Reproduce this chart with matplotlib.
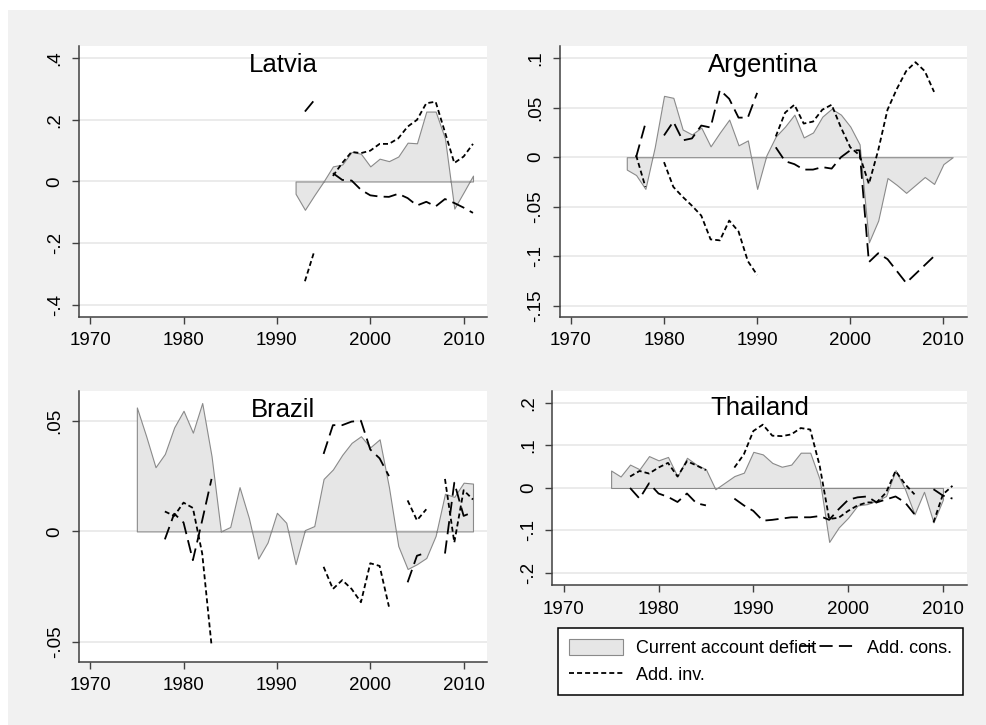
import matplotlib.pyplot as plt
import numpy as np
from matplotlib.lines import Line2D
from matplotlib.patches import Patch, Rectangle

nan = np.nan

# ---- data (shares of GDP) ----
latvia_years = list(range(1992, 2012))
latvia_ca = [-0.040, -0.092, -0.045, 0.000, 0.049, 0.055, 0.096, 0.090, 0.049, 0.074,
             0.066, 0.081, 0.126, 0.124, 0.227, 0.227, 0.140, -0.088, -0.035, 0.019]
latvia_cons = [nan, 0.227, 0.264, nan, 0.027, 0.005, 0.003, -0.027, -0.045, -0.049,
               -0.050, -0.040, -0.054, -0.078, -0.066, -0.081, -0.057, -0.070, -0.085, -0.102]
latvia_inv = [nan, -0.324, -0.227, nan, 0.018, 0.060, 0.096, 0.092, 0.100, 0.122,
              0.122, 0.140, 0.178, 0.200, 0.254, 0.259, 0.160, 0.060, 0.081, 0.122]

argentina_years = list(range(1976, 2012))
argentina_ca = [-0.0125, -0.018, -0.032, 0.010, 0.062, 0.060, 0.028, 0.023, 0.030, 0.011,
                0.025, 0.038, 0.012, 0.017, -0.032, 0.002, 0.021, 0.031, 0.043, 0.020,
                0.025, 0.041, 0.049, 0.043, 0.031, 0.013, -0.086, -0.064, -0.021, -0.028,
                -0.036, -0.028, -0.020, -0.027, -0.007, 0.000]
argentina_cons = [nan, 0.000, 0.034, nan, 0.022, 0.036, 0.017, 0.019, 0.032, 0.030,
                  0.068, 0.059, 0.040, 0.040, 0.065, nan, 0.010, -0.004, -0.007, -0.0125,
                  -0.0125, -0.010, -0.0115, 0.000, 0.007, 0.007, -0.106, -0.097, -0.103, -0.115,
                  -0.127, -0.118, -0.109, -0.100, nan, nan]
argentina_inv = [nan, 0.002, -0.030, nan, -0.005, -0.030, -0.040, -0.049, -0.059, -0.083,
                 -0.084, -0.064, -0.075, -0.105, -0.119, nan, 0.021, 0.045, 0.053, 0.034,
                 0.036, 0.048, 0.053, 0.030, 0.010, 0.002, -0.027, 0.007, 0.048, 0.069,
                 0.087, 0.096, 0.087, 0.066, nan, nan]

brazil_years = list(range(1975, 2012))
brazil_ca = [0.056, 0.043, 0.029, 0.035, 0.047, 0.0545, 0.0446, 0.058, 0.034, 0.000,
             0.002, 0.020, 0.006, -0.0123, -0.005, 0.0084, 0.0039, -0.0148, 0.0006, 0.0024,
             0.0237, 0.028, 0.0346, 0.040, 0.043, 0.038, 0.0416, 0.020, -0.0066, -0.017,
             -0.0148, -0.012, -0.002, 0.017, 0.0156, 0.022, 0.0216]
brazil_cons = [nan, nan, nan, -0.0036, 0.008, 0.004, -0.013, 0.005, 0.0237, nan,
               nan, nan, nan, nan, nan, nan, nan, nan, nan, nan,
               0.035, 0.048, 0.048, 0.0496, 0.050, 0.037, 0.033, 0.025, nan, -0.023,
               -0.011, -0.0096, nan, -0.010, 0.022, 0.007, 0.0087]
brazil_inv = [nan, nan, nan, 0.009, 0.007, 0.013, 0.0106, -0.010, -0.0515, nan,
              nan, nan, nan, nan, nan, nan, nan, nan, nan, nan,
              -0.016, -0.026, -0.022, -0.026, -0.032, -0.0144, -0.0156, -0.034, nan, 0.014,
              0.005, 0.010, nan, 0.0237, -0.005, 0.0186, 0.0144]

thailand_years = list(range(1975, 2012))
thailand_ca = [0.041, 0.027, 0.055, 0.044, 0.075, 0.065, 0.073, 0.027, 0.071, 0.055,
               0.044, -0.003, 0.0125, 0.028, 0.036, 0.085, 0.079, 0.059, 0.050, 0.055,
               0.083, 0.083, 0.020, -0.127, -0.093, -0.070, -0.041, -0.038, -0.030, -0.019,
               0.042, -0.003, -0.062, -0.009, -0.081, -0.027, nan]
thailand_cons = [nan, nan, 0.000, -0.025, 0.011, -0.013, -0.021, -0.033, -0.013, -0.036,
                 -0.041, nan, nan, -0.025, -0.041, -0.054, -0.077, -0.075, -0.072, -0.069,
                 -0.069, -0.069, -0.066, -0.075, -0.050, -0.028, -0.022, -0.020, -0.034, -0.027,
                 -0.020, -0.034, -0.062, nan, -0.003, -0.018, -0.025]
thailand_inv = [nan, nan, 0.027, 0.040, 0.034, 0.048, 0.059, 0.027, 0.063, 0.053,
                0.042, nan, nan, 0.048, 0.079, 0.134, 0.149, 0.123, 0.122, 0.126,
                0.141, 0.1375, 0.052, -0.073, -0.070, -0.054, -0.041, -0.034, -0.034, -0.011,
                0.040, 0.009, -0.015, nan, -0.081, -0.015, 0.005]

xticks = [1970, 1980, 1990, 2000, 2010]

panels = [
    ('Latvia', latvia_years, latvia_ca, latvia_cons, latvia_inv,
     [-0.4, -0.2, 0, 0.2, 0.4], ['-.4', '-.2', '0', '.2', '.4'], (-0.44, 0.44),
     [0.080, 0.5628, 0.4134, 0.3738]),
    ('Argentina', argentina_years, argentina_ca, argentina_cons, argentina_inv,
     [-0.15, -0.1, -0.05, 0, 0.05, 0.1], ['-.15', '-.1', '-.05', '0', '.05', '.1'], (-0.1614, 0.1124),
     [0.5671, 0.5628, 0.4123, 0.3738]),
    ('Brazil', brazil_years, brazil_ca, brazil_cons, brazil_inv,
     [-0.05, 0, 0.05], ['-.05', '0', '.05'], (-0.059, 0.0633),
     [0.080, 0.0869, 0.4134, 0.3734]),
    ('Thailand', thailand_years, thailand_ca, thailand_cons, thailand_inv,
     [-0.2, -0.1, 0, 0.1, 0.2], ['-.2', '-.1', '0', '.1', '.2'], (-0.229, 0.2275),
     [0.5596, 0.1927, 0.4198, 0.2676]),
]

plt.rcParams['font.family'] = ['Liberation Sans', 'DejaVu Sans']
plt.rcParams['lines.scale_dashes'] = False

bg = '#f1f1f1'
area_face = '#e6e6e6'
area_edge = '#8a8a8a'
long_dash = (0, (9.5, 4.5))
short_dash = (0, (3.6, 2.2))

fig = plt.figure(figsize=(9.87, 7.25), dpi=100)
fig.patch.set_facecolor('white')
fig.patches.append(Rectangle((8 / 987, 0), 1, 1 - 10 / 725, transform=fig.transFigure,
                             facecolor=bg, edgecolor='none', zorder=-10))

for name, years, ca, cons, inv, yt, ytl, ylim, pos in panels:
    ax = fig.add_axes(pos)
    ax.set_facecolor('white')
    yrs = np.array(years, dtype=float)
    ax.fill_between(yrs, 0, np.array(ca), facecolor=area_face, edgecolor=area_edge,
                    linewidth=0.8, zorder=2)
    ax.plot(yrs, cons, color='black', linewidth=1.3, linestyle=long_dash, zorder=3)
    ax.plot(yrs, inv, color='black', linewidth=1.3, linestyle=short_dash, zorder=3)
    ax.set_xlim(1968.8, 2012.5)
    ax.set_ylim(*ylim)
    ax.set_xticks(xticks)
    ax.set_yticks(yt)
    ax.set_yticklabels(ytl, rotation=90, va='center')
    ax.yaxis.grid(True, color='#e8e8e8', linewidth=1.2, zorder=0)
    ax.set_axisbelow(True)
    for s in ['top', 'right']:
        ax.spines[s].set_visible(False)
    for s in ['left', 'bottom']:
        ax.spines[s].set_color('#404040')
        ax.spines[s].set_linewidth(1.1)
    ax.tick_params(axis='both', direction='out', length=5, width=1.0, color='#404040',
                   labelsize=13.5, pad=6)
    ax.text(0.5, 0.975, name, transform=ax.transAxes, ha='center', va='top', fontsize=18.5)

handles = [
    Patch(facecolor=area_face, edgecolor=area_edge, linewidth=0.8, label='Current account deficit'),
    Line2D([], [], color='black', linewidth=1.3, linestyle=short_dash, label='Add. inv.'),
    Line2D([], [], color='black', linewidth=1.3, linestyle=long_dash, label='Add. cons.'),
]
leg = fig.legend(handles=handles, ncol=2, loc='upper left', bbox_to_anchor=(0.5657, 0.1342),
                 frameon=True, fancybox=False, edgecolor='black', facecolor='white',
                 framealpha=1, fontsize=13, handlelength=3.0, handleheight=1.0,
                 handletextpad=0.7, columnspacing=-0.9, borderpad=0.6, labelspacing=0.5,
                 borderaxespad=0)
leg.get_frame().set_linewidth(1.1)

fig.savefig('out.png', dpi=100, facecolor=fig.get_facecolor())
